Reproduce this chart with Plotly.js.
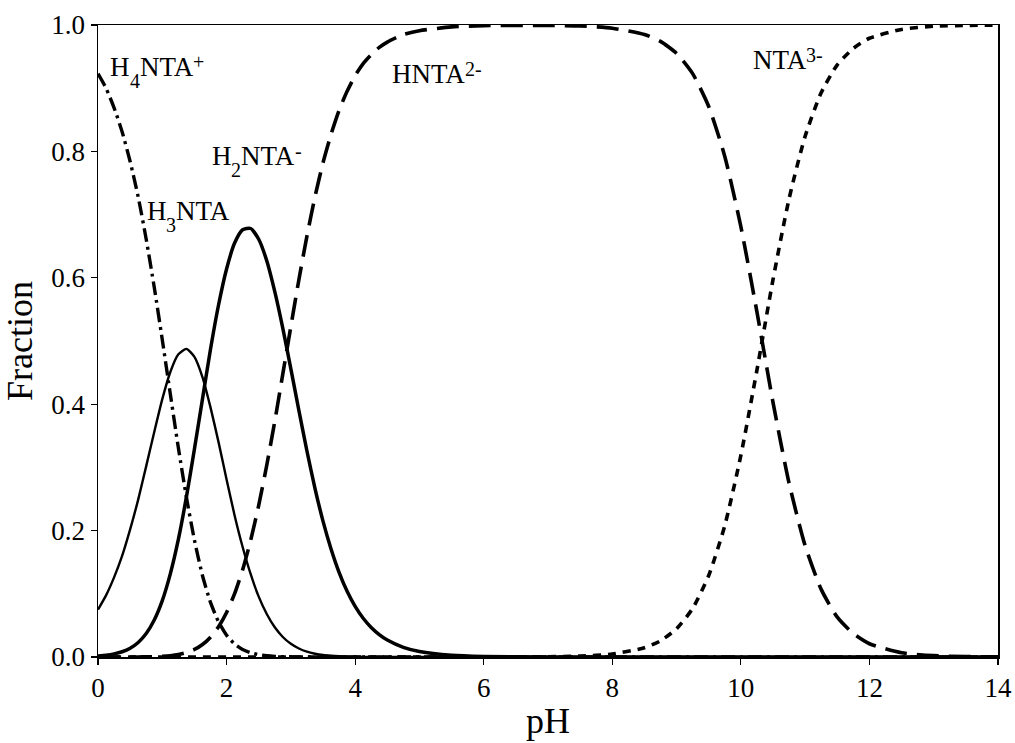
<!DOCTYPE html>
<html>
<head>
<meta charset="utf-8">
<script src="https://cdn.plot.ly/plotly-3.0.1.min.js"></script>
<style>
  html, body { margin: 0; padding: 0; background: #fff; }
  #chart { width: 1015px; height: 743px; }
</style>
</head>
<body>
<div id="chart"></div>
<script>
// Speciation of nitrilotriacetic acid (NTA) versus pH
const pH = [0, 0.125, 0.25, 0.375, 0.5, 0.625, 0.75, 0.875,
            1, 1.125, 1.25, 1.375, 1.5, 1.625, 1.75, 1.875,
            2, 2.125, 2.25, 2.375, 2.5, 2.625, 2.75, 2.875,
            3, 3.125, 3.25, 3.375, 3.5, 3.625, 3.75, 3.875,
            4, 4.125, 4.25, 4.375, 4.5, 4.75, 5, 5.5,
            6, 7, 7.5, 8, 8.5, 8.75, 9, 9.25,
            9.5, 9.75, 10, 10.25, 10.5, 10.75, 11, 11.25,
            11.5, 11.75, 12, 12.5, 13, 13.5, 14];

const fracH4NTA = [0.923, 0.900, 0.869, 0.831, 0.784, 0.728, 0.661, 0.585,
                   0.502, 0.416, 0.331, 0.253, 0.185, 0.129, 0.0865, 0.0557,
                   0.0345, 0.0207, 0.012, 0.0068, 0.0037, 0.002, 0.001, 0.0005,
                   0.0003, 0.0001, 0, 0, 0, 0, 0, 0,
                   0, 0, 0, 0, 0, 0, 0, 0,
                   0, 0, 0, 0, 0, 0, 0, 0,
                   0, 0, 0, 0, 0, 0, 0, 0,
                   0, 0, 0, 0, 0, 0, 0];

const fracH3NTA = [0.075, 0.0975, 0.126, 0.160, 0.202, 0.249, 0.302, 0.356,
                   0.408, 0.451, 0.479, 0.4875, 0.475, 0.443, 0.395, 0.340,
                   0.281, 0.224, 0.174, 0.131, 0.0955, 0.068, 0.047, 0.0317,
                   0.0208, 0.0134, 0.0084, 0.0052, 0.0031, 0.0019, 0.0011, 0.0006,
                   0.0004, 0.0002, 0.0001, 0, 0, 0, 0, 0,
                   0, 0, 0, 0, 0, 0, 0, 0,
                   0, 0, 0, 0, 0, 0, 0, 0,
                   0, 0, 0, 0, 0, 0, 0];

const fracH2NTA = [0.0016, 0.0028, 0.0049, 0.0083, 0.0139, 0.023, 0.0371, 0.0585,
                   0.0892, 0.1315, 0.186, 0.253, 0.329, 0.408, 0.487, 0.557,
                   0.614, 0.655, 0.676, 0.678, 0.661, 0.627, 0.578, 0.520,
                   0.456, 0.390, 0.326, 0.267, 0.215, 0.171, 0.134, 0.104,
                   0.0801, 0.0613, 0.0467, 0.0354, 0.0268, 0.0153, 0.0086, 0.0027,
                   0.0009, 0.0001, 0, 0, 0, 0, 0, 0,
                   0, 0, 0, 0, 0, 0, 0, 0,
                   0, 0, 0, 0, 0, 0, 0];

const fracHNTA = [0, 0, 0, 0, 0.0001, 0.0001, 0.0002, 0.0005,
                  0.001, 0.002, 0.0038, 0.0069, 0.0119, 0.0198, 0.0314, 0.0479,
                  0.0705, 0.1002, 0.138, 0.1846, 0.240, 0.3034, 0.373, 0.448,
                  0.523, 0.597, 0.666, 0.728, 0.782, 0.827, 0.865, 0.895,
                  0.920, 0.939, 0.953, 0.9645, 0.973, 0.985, 0.991, 0.997,
                  0.999, 0.9994, 0.9985, 0.995, 0.985, 0.974, 0.955, 0.923,
                  0.871, 0.792, 0.681, 0.546, 0.403, 0.275, 0.176, 0.107,
                  0.063, 0.037, 0.021, 0.0067, 0.0021, 0.0007, 0.0002];

const fracNTA = [0, 0, 0, 0, 0, 0, 0, 0,
                 0, 0, 0, 0, 0, 0, 0, 0,
                 0, 0, 0, 0, 0, 0, 0, 0,
                 0, 0, 0, 0, 0, 0, 0, 0,
                 0, 0, 0, 0, 0, 0, 0, 0,
                 0, 0.0005, 0.0015, 0.0047, 0.0146, 0.0256, 0.0447, 0.0768,
                 0.129, 0.208, 0.319, 0.454, 0.597, 0.725, 0.824, 0.893,
                 0.937, 0.963, 0.979, 0.993, 0.998, 0.9993, 0.9998];

const xTicks = [0, 2, 4, 6, 8, 10, 12, 14];
const yTicks = [0, 0.2, 0.4, 0.6, 0.8, 1.0];

// Species labels as runs of [text, kind]; kind: 'n' normal, 'sub', 'sup'
const speciesLabels = [
  [['H', 'n'], ['4', 'sub'], ['NTA', 'n'], ['+', 'sup']],
  [['H', 'n'], ['2', 'sub'], ['NTA', 'n'], ['-', 'sup']],
  [['H', 'n'], ['3', 'sub'], ['NTA', 'n']],
  [['HNTA', 'n'], ['2-', 'sup']],
  [['NTA', 'n'], ['3-', 'sup']]
];
const labelX = [0.16, 1.74, 0.73, 4.54, 10.16];
const labelY = [0.9335, 0.7924, 0.706, 0.9222, 0.9446];

const serifName = 'Liberation Serif';
const serif = '"Liberation Serif", "Times New Roman", serif';
const baseSize = 27;
const smallSize = 20;
const subShift = -14;
const supShift = 5;

const measureCtx = document.createElement('canvas').getContext('2d');
function textWidth(text, size) {
  measureCtx.font = size + 'px "' + serifName + '"';
  return measureCtx.measureText(text).width;
}

function curve(y, width, dash) {
  return {
    x: pH, y: y, type: 'scatter', mode: 'lines',
    line: { color: '#000', width: width, dash: dash, shape: 'spline', smoothing: 0.6 },
    hoverinfo: 'skip', showlegend: false
  };
}

const traces = [
  curve(fracH4NTA, 3.4, '14px,5px,3px,5px'),
  curve(fracH3NTA, 2.4, 'solid'),
  curve(fracH2NTA, 3.5, 'solid'),
  curve(fracHNTA, 3.6, '22px,10px'),
  curve(fracNTA, 3.6, '8px,7px')
];

const annotations = [];
speciesLabels.forEach((runs, i) => {
  let offset = 0;
  runs.forEach(([text, kind]) => {
    const size = kind === 'n' ? baseSize : smallSize;
    annotations.push({
      text: text, x: labelX[i], y: labelY[i], xref: 'x', yref: 'y',
      xanchor: 'left', yanchor: 'middle', showarrow: false,
      xshift: offset,
      yshift: kind === 'sub' ? subShift : (kind === 'sup' ? supShift : 0),
      font: { family: serif, size: size, color: '#000' }
    });
    offset += textWidth(text, size);
  });
});

function axis(extra) {
  return Object.assign({
    showline: true, mirror: true, linecolor: '#000', linewidth: 1.5,
    ticks: 'outside', ticklen: 6, tickwidth: 1.2, tickcolor: '#000',
    showgrid: false, zeroline: false,
    tickfont: { family: serif, size: 27, color: '#000' }
  }, extra);
}

const layout = {
  width: 1015, height: 743,
  margin: { l: 98, r: 17, t: 25, b: 86 },
  paper_bgcolor: '#fff', plot_bgcolor: '#fff',
  font: { family: serif, color: '#000' },
  xaxis: axis({
    range: [0, 14], tickvals: xTicks,
    title: { text: 'pH', font: { family: serif, size: 36, color: '#000' }, standoff: 6 }
  }),
  yaxis: axis({
    range: [0, 1], tickvals: yTicks, tickformat: '.1f',
    title: { text: 'Fraction', font: { family: serif, size: 36, color: '#000' }, standoff: 12 }
  }),
  annotations: annotations
};

Plotly.newPlot('chart', traces, layout, { staticPlot: true, displayModeBar: false });
</script>
</body>
</html>
